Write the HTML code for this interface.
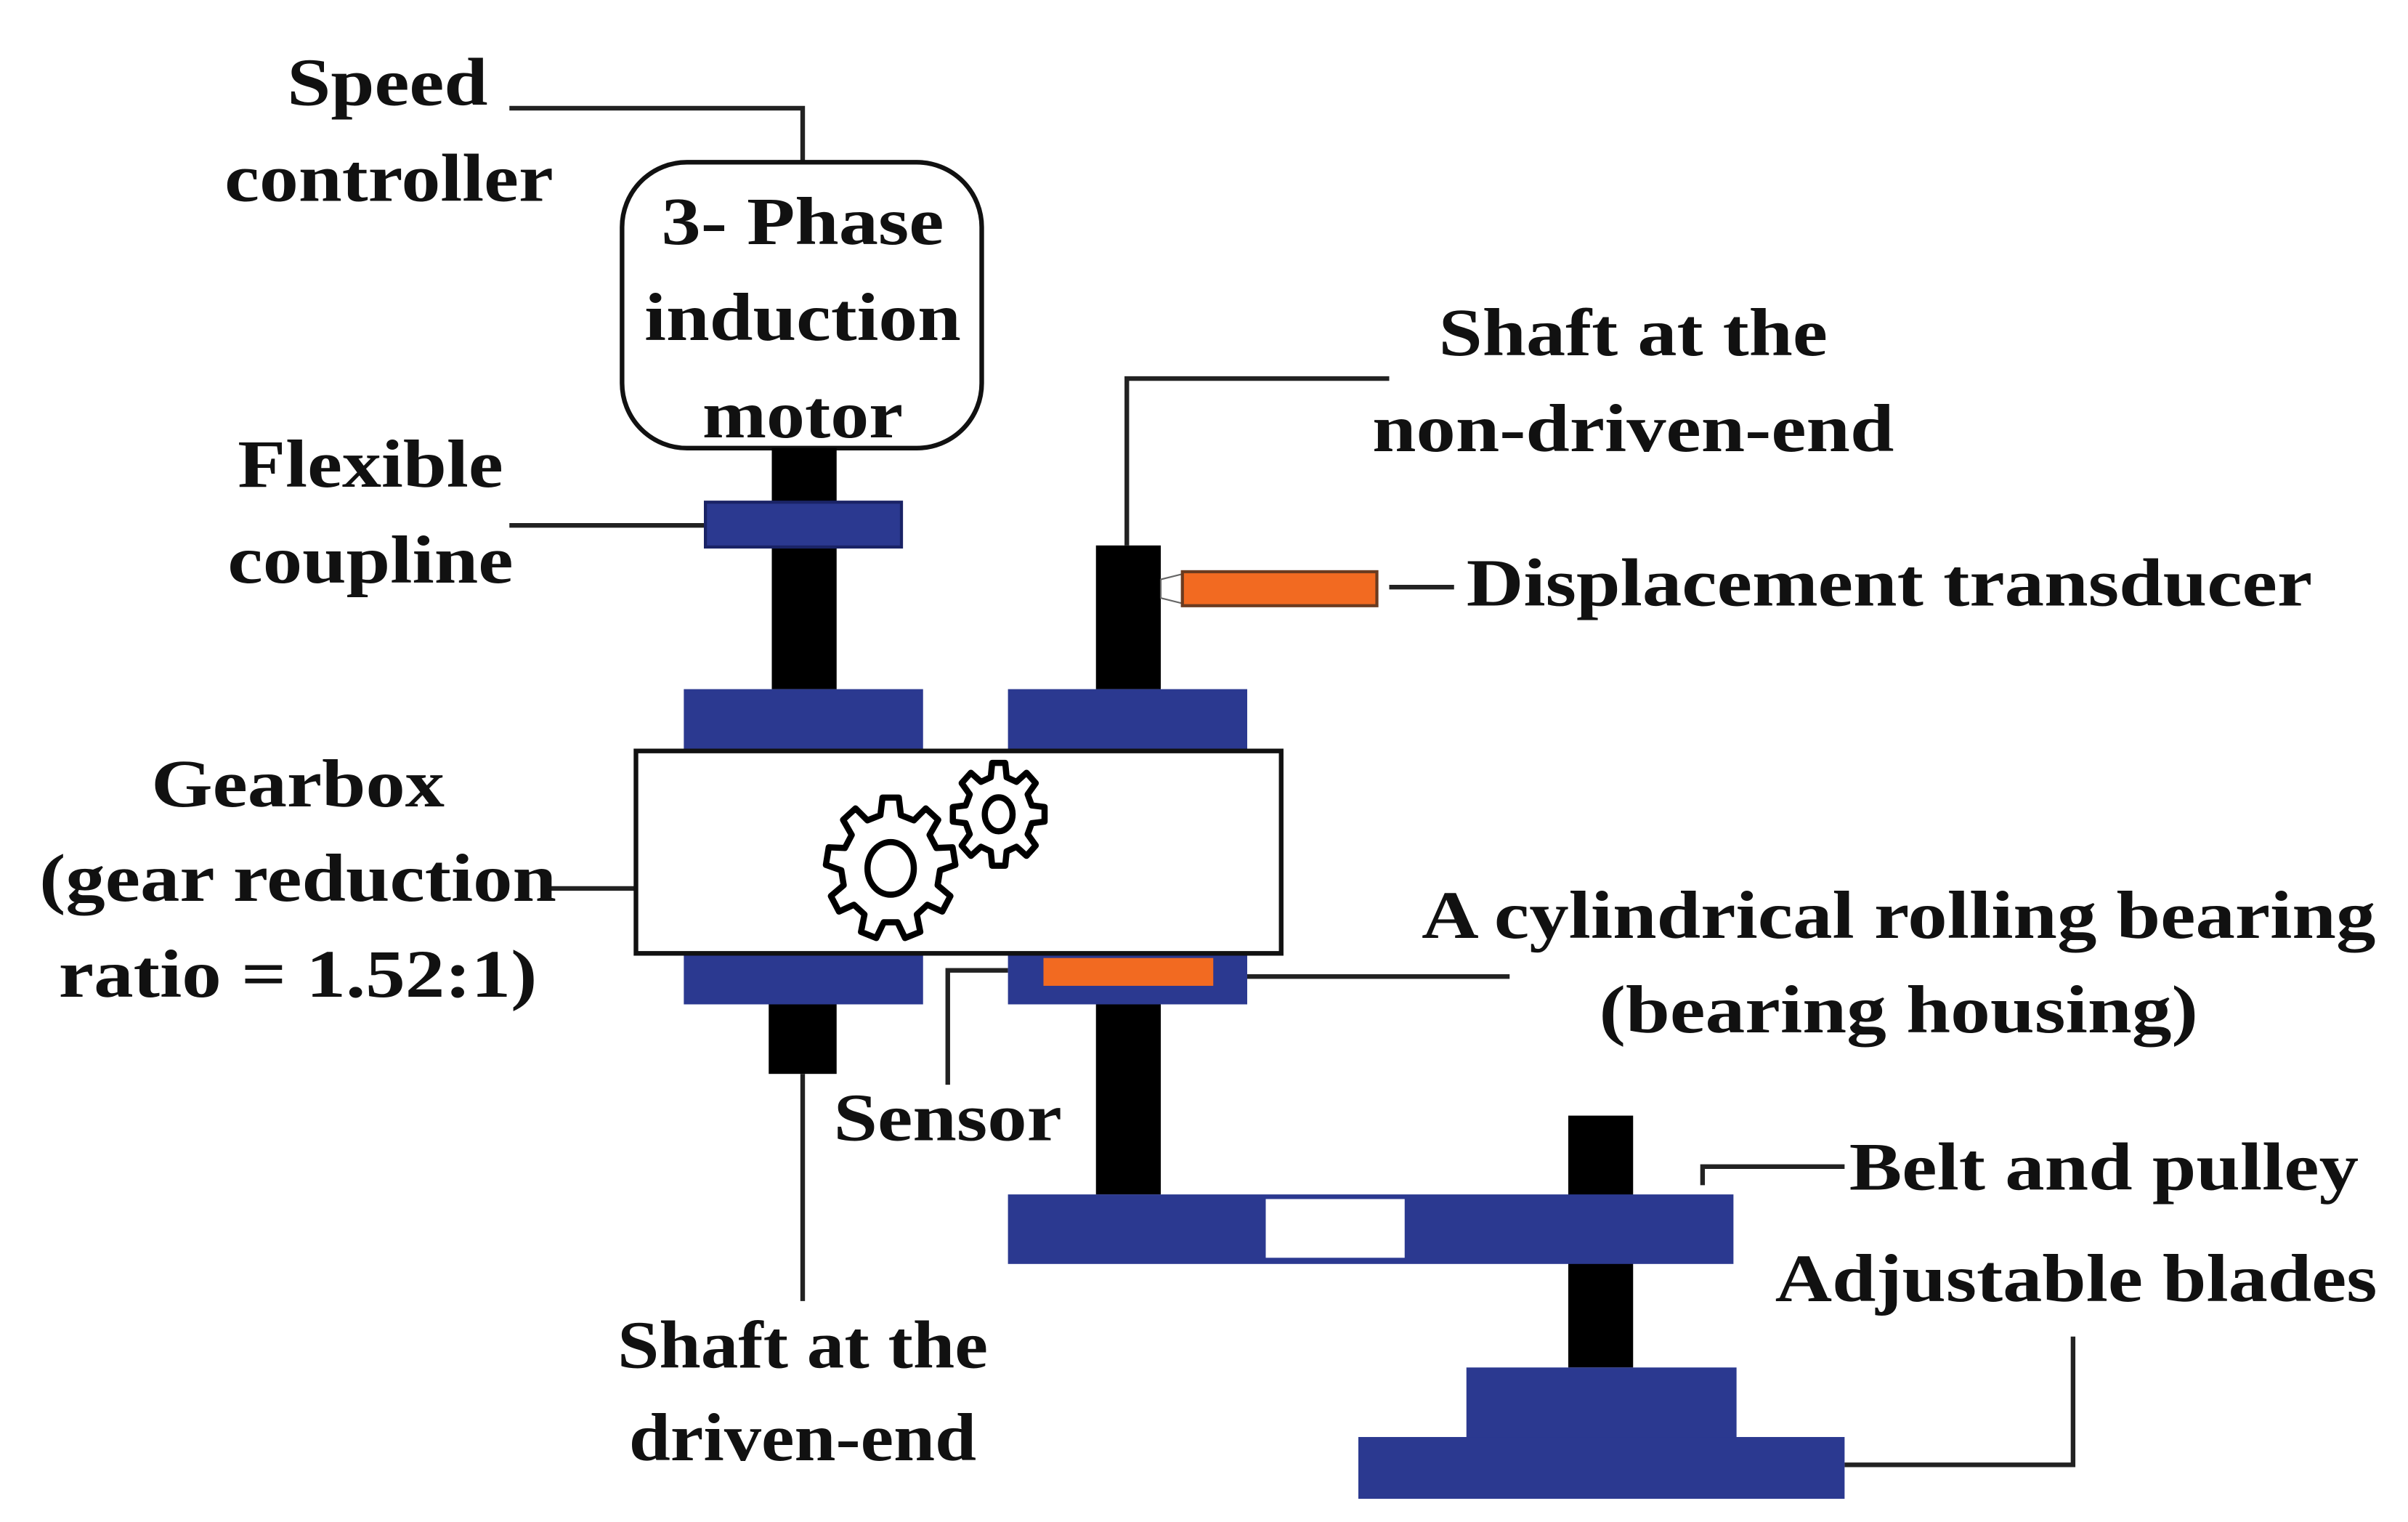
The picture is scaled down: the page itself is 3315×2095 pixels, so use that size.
<!DOCTYPE html>
<html><head><meta charset="utf-8"><style>
html,body{margin:0;padding:0;background:#fff;}
svg{display:block;}
text{font-family:"Liberation Serif",serif;font-weight:bold;font-size:44px;fill:#111;}
</style></head><body>
<svg width="3315" height="2095" viewBox="0 0 1560 985" preserveAspectRatio="none" xmlns="http://www.w3.org/2000/svg">
<rect width="1560" height="985" fill="#fff"/>
<g stroke="#222" stroke-width="3" fill="none">
<polyline points="330,70 520,70 520,105"/>
<line x1="330" y1="340" x2="457" y2="340"/>
<polyline points="730,353 730,245 900,245"/>
<line x1="900" y1="380" x2="942" y2="380"/>
<line x1="355" y1="575" x2="412" y2="575"/>
<line x1="520" y1="695" x2="520" y2="842"/>
<polyline points="653,628 614,628 614,702"/>
<line x1="808" y1="632" x2="978" y2="632"/>
<polyline points="1103,767 1103,755 1195,755"/>
<polyline points="1195,948 1343,948 1343,865"/>
</g>
<rect x="403" y="105" width="233" height="185" rx="42" fill="#fff" stroke="#111" stroke-width="3"/>
<rect x="500" y="290" width="42" height="156" fill="#000"/>
<rect x="457" y="325" width="127" height="29" fill="#2b3990" stroke="#1a2366" stroke-width="2"/>
<rect x="710" y="353" width="42" height="93" fill="#000"/>
<polygon points="752,375 768,371 768,391 752,387" fill="#fff" stroke="#666" stroke-width="1"/>
<rect x="766" y="370" width="126" height="22" fill="#f26a21" stroke="#6b3b20" stroke-width="2"/>
<rect x="443" y="446" width="155" height="40" fill="#2b3990"/>
<rect x="653" y="446" width="155" height="40" fill="#2b3990"/>
<rect x="443" y="617" width="155" height="33" fill="#2b3990"/>
<rect x="653" y="617" width="155" height="33" fill="#2b3990"/>
<rect x="676" y="620" width="110" height="18" fill="#f26a21"/>
<rect x="412" y="486" width="418" height="131" fill="#fff" stroke="#111" stroke-width="3"/>
<rect x="498" y="650" width="44" height="45" fill="#000"/>
<rect x="710" y="650" width="42" height="123" fill="#000"/>
<rect x="1016" y="722" width="42" height="163" fill="#000"/>
<rect x="653" y="773" width="470" height="45" fill="#2b3990"/>
<rect x="820" y="776" width="90" height="38" fill="#fff"/>
<rect x="950" y="885" width="175" height="46" fill="#2b3990"/>
<rect x="880" y="930" width="315" height="40" fill="#2b3990"/>
<path id="g1" fill="#fff" stroke="#000" stroke-width="4" stroke-linejoin="round"/>
<path id="g2" fill="#fff" stroke="#000" stroke-width="4" stroke-linejoin="round"/>
<ellipse cx="577" cy="562" rx="15" ry="17" fill="#fff" stroke="#000" stroke-width="4"/>
<ellipse cx="647" cy="527" rx="9" ry="11" fill="#fff" stroke="#000" stroke-width="4"/>
<text x="520" y="158" text-anchor="middle" textLength="183" lengthAdjust="spacingAndGlyphs">3- Phase</text>
<text x="520" y="220" text-anchor="middle" textLength="205" lengthAdjust="spacingAndGlyphs">induction</text>
<text x="520" y="283" text-anchor="middle" textLength="130" lengthAdjust="spacingAndGlyphs">motor</text>
<text x="251" y="68" text-anchor="middle" textLength="130" lengthAdjust="spacingAndGlyphs">Speed</text>
<text x="252" y="130" text-anchor="middle" textLength="213" lengthAdjust="spacingAndGlyphs">controller</text>
<text x="240" y="315" text-anchor="middle" textLength="172" lengthAdjust="spacingAndGlyphs">Flexible</text>
<text x="240" y="377" text-anchor="middle" textLength="185" lengthAdjust="spacingAndGlyphs">coupline</text>
<text x="1058" y="230" text-anchor="middle" textLength="252" lengthAdjust="spacingAndGlyphs">Shaft at the</text>
<text x="1058" y="292" text-anchor="middle" textLength="338" lengthAdjust="spacingAndGlyphs">non-driven-end</text>
<text x="950" y="392" textLength="548" lengthAdjust="spacingAndGlyphs">Displacement transducer</text>
<text x="193" y="522" text-anchor="middle" textLength="190" lengthAdjust="spacingAndGlyphs">Gearbox</text>
<text x="193" y="583" text-anchor="middle" textLength="335" lengthAdjust="spacingAndGlyphs">(gear reduction</text>
<text x="193" y="645" text-anchor="middle" textLength="310" lengthAdjust="spacingAndGlyphs">ratio = 1.52:1)</text>
<text x="1230" y="607" text-anchor="middle" textLength="618" lengthAdjust="spacingAndGlyphs">A cylindrical rolling bearing</text>
<text x="1230" y="668" text-anchor="middle" textLength="388" lengthAdjust="spacingAndGlyphs">(bearing housing)</text>
<text x="614" y="738" text-anchor="middle" textLength="148" lengthAdjust="spacingAndGlyphs">Sensor</text>
<text x="1198" y="770" textLength="330" lengthAdjust="spacingAndGlyphs">Belt and pulley</text>
<text x="1150" y="842" textLength="390" lengthAdjust="spacingAndGlyphs">Adjustable blades</text>
<text x="520" y="885" text-anchor="middle" textLength="240" lengthAdjust="spacingAndGlyphs">Shaft at the</text>
<text x="520" y="945" text-anchor="middle" textLength="225" lengthAdjust="spacingAndGlyphs">driven-end</text>
</svg>
<script>
function gear(cx,cy,rin,rout,n,sy,rot){
  var d="",step=2*Math.PI/n;
  for(var i=0;i<n;i++){
    var a=rot+i*step;
    var pts=[[rin,a-step*0.30],[rout,a-step*0.18],[rout,a+step*0.18],[rin,a+step*0.30]];
    for(var j=0;j<pts.length;j++){
      var r=pts[j][0],t=pts[j][1];
      var x=cx+r*Math.cos(t),y=cy+r*Math.sin(t)*sy;
      d+=(i==0&&j==0?"M":"L")+x.toFixed(2)+","+y.toFixed(2);
    }
  }
  return d+"Z";
}
document.getElementById("g1").setAttribute("d",gear(577,562,32,42,9,1.1,-Math.PI/2));
document.getElementById("g2").setAttribute("d",gear(647,527,22,30,8,1.12,-Math.PI/2));
</script>
</body></html>
